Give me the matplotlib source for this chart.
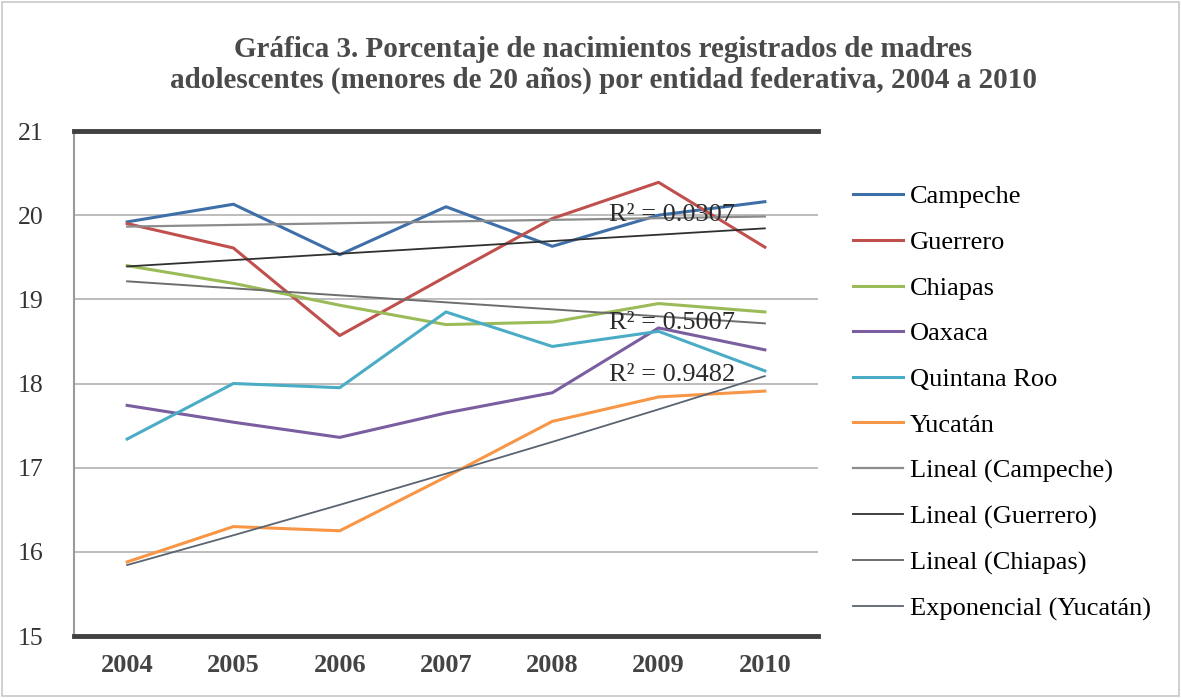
import numpy as np
import matplotlib
matplotlib.use("Agg")
import matplotlib.pyplot as plt
from matplotlib.lines import Line2D
from matplotlib.patches import Rectangle

years = ["2004", "2005", "2006", "2007", "2008", "2009", "2010"]
campeche = [19.92, 20.13, 19.53, 20.10, 19.63, 20.00, 20.16]
guerrero = [19.90, 19.61, 18.57, 19.27, 19.96, 20.39, 19.62]
chiapas = [19.40, 19.19, 18.93, 18.70, 18.73, 18.95, 18.85]
oaxaca = [17.74, 17.54, 17.36, 17.65, 17.89, 18.66, 18.40]
quintana_roo = [17.34, 18.00, 17.95, 18.85, 18.44, 18.62, 18.15]
yucatan = [15.88, 16.30, 16.25, 16.89, 17.55, 17.84, 17.91]
r2_labels = ["R² = 0.0307", "R² = 0.5007", "R² = 0.9482"]
yticks = [15, 16, 17, 18, 19, 20, 21]

title = ("Gráfica 3. Porcentaje de nacimientos registrados de madres\n"
         "adolescentes (menores de 20 años) por entidad federativa, 2004 a 2010")

plt.rcParams['font.family'] = ['Liberation Serif', 'DejaVu Serif']

fig = plt.figure(figsize=(11.81, 6.98), dpi=100)
W, H = 1181, 698
ax = fig.add_axes([74 / W, 1 - 636 / H, (818 - 74) / W, (636 - 131) / H])

x = np.arange(len(years))
series = [
    ("Campeche", campeche, "#3F6FA8"),
    ("Guerrero", guerrero, "#C0504D"),
    ("Chiapas", chiapas, "#9BBB59"),
    ("Oaxaca", oaxaca, "#7A5EA0"),
    ("Quintana Roo", quintana_roo, "#4BACC6"),
    ("Yucatán", yucatan, "#F79646"),
]
handles = []
for name, vals, col in series:
    ax.plot(x, vals, color=col, lw=2.2, zorder=3)
    handles.append(Line2D([], [], color=col, lw=2.2, label=name))

# Trendlines derived from the data (as in the original spreadsheet chart)
def linfit(vals):
    p = np.polyfit(x, vals, 1)
    return np.polyval(p, x)

def expfit(vals):
    p = np.polyfit(x, np.log(vals), 1)
    return np.exp(np.polyval(p, x))

trends = [
    ("Lineal (Campeche)", linfit(campeche), "#8C8C8C", 1.6),
    ("Lineal (Guerrero)", linfit(guerrero), "#303030", 1.3),
    ("Lineal (Chiapas)", linfit(chiapas), "#6E6E6E", 1.4),
    ("Exponencial (Yucatán)", expfit(yucatan), "#5A6470", 1.3),
]
for name, vals, col, lw in trends:
    ax.plot(x, vals, color=col, lw=lw, zorder=4)
    handles.append(Line2D([], [], color=col, lw=lw, label=name))

# R² labels
for txt, yv in zip(r2_labels, [20.0, 18.72, 18.1]):
    ax.text(5.72, yv, txt, ha="right", va="center", fontsize=19,
            color="#2b2b2b", zorder=5)

ax.set_xlim(-0.5, 6.5)
ax.set_ylim(15, 21)
ax.set_yticks(yticks)
ax.set_yticklabels([str(t) for t in yticks], fontsize=18.5, color="#333333")
ax.set_xticks(x)
ax.set_xticklabels(years, fontsize=19, fontweight="bold", color="#444444")
ax.tick_params(axis="both", length=0)
ax.tick_params(axis="y", pad=22)
ax.tick_params(axis="x", pad=13)
ax.grid(axis="y", color="#BDBDBD", lw=1.4, zorder=0)
ax.set_axisbelow(True)
for s in ["top", "bottom"]:
    ax.spines[s].set_color("#404040")
    ax.spines[s].set_linewidth(3.5)
ax.spines["left"].set_color("#9A9A9A")
ax.spines["left"].set_linewidth(1.5)
ax.spines["right"].set_visible(False)

fig.text(603 / W, 1 - 65 / H, title, ha="center", va="center", fontsize=21,
         fontweight="bold", color="#4a4a4a", linespacing=1.15)

fig.legend(handles=handles, loc="upper left",
           bbox_to_anchor=(853 / W, 1 - 185 / H), frameon=False,
           fontsize=19, handlelength=1.9, handletextpad=0.27,
           labelspacing=0.84, borderaxespad=0, borderpad=0)

fig.add_artist(Rectangle((2 / W, 2 / H), 1 - 4 / W, 1 - 4 / H,
                         transform=fig.transFigure, fill=False,
                         edgecolor="#C8C8C8", lw=1.2))

fig.savefig("out.png", dpi=100)
